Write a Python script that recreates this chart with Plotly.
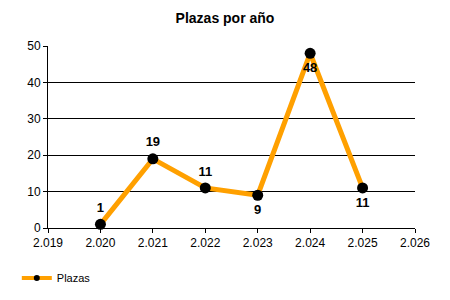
import plotly.graph_objects as go

years = [2020, 2021, 2022, 2023, 2024, 2025]
plazas = [1, 19, 11, 9, 48, 11]
label_pos = ["top center", "top center", "top center", "bottom center", "bottom center", "bottom center"]
y_ticks = [0, 10, 20, 30, 40, 50]
x_ticks = [2019, 2020, 2021, 2022, 2023, 2024, 2025, 2026]

fig = go.Figure()
fig.add_trace(go.Scatter(
    x=years, y=plazas, mode="lines+markers", name="Plazas", showlegend=False,
    line=dict(color="#FFA000", width=5),
    marker=dict(color="black", size=11),
    cliponaxis=False,
))
fig.add_trace(go.Scatter(
    x=years, y=plazas, mode="markers+text", text=[str(v) for v in plazas],
    textposition=label_pos, showlegend=False, hoverinfo="skip",
    marker=dict(size=13, opacity=0),
    textfont=dict(family="Liberation Sans, Arial", size=13, color="black", weight="bold"),
    cliponaxis=False,
))
# legend-only entry
fig.add_trace(go.Scatter(
    x=[None], y=[None], mode="lines+markers", name="Plazas",
    line=dict(color="#FFA000", width=4),
    marker=dict(color="black", size=6),
))

fig.update_layout(
    width=450, height=300,
    margin=dict(l=48, r=35, t=46, b=72, autoexpand=False),
    paper_bgcolor="white", plot_bgcolor="white",
    separators=",.",
    title=dict(text="<b>Plazas por año</b>", x=0.5, xanchor="center", y=0.94, yanchor="middle",
               font=dict(family="Liberation Sans, Arial", size=14, color="black")),
    font=dict(family="Liberation Sans, Arial", size=12, color="black"),
    showlegend=True,
    legend=dict(orientation="h", x=-0.085, xanchor="left", y=-0.275, yanchor="middle",
                font=dict(size=11), itemwidth=30),
    xaxis=dict(range=[2019, 2026], tickvals=x_ticks, tickformat=",d",
               showgrid=False, showline=True, linecolor="black", linewidth=1,
               ticks="outside", ticklen=4, tickcolor="black", zeroline=False,
               tickfont=dict(size=12)),
    yaxis=dict(range=[0, 50], tickvals=y_ticks, showgrid=True, gridcolor="black", gridwidth=1,
               showline=True, linecolor="black", linewidth=1,
               ticks="outside", ticklen=4, tickcolor="black", zeroline=False,
               tickfont=dict(size=12)),
)

fig.write_html("out.html")
